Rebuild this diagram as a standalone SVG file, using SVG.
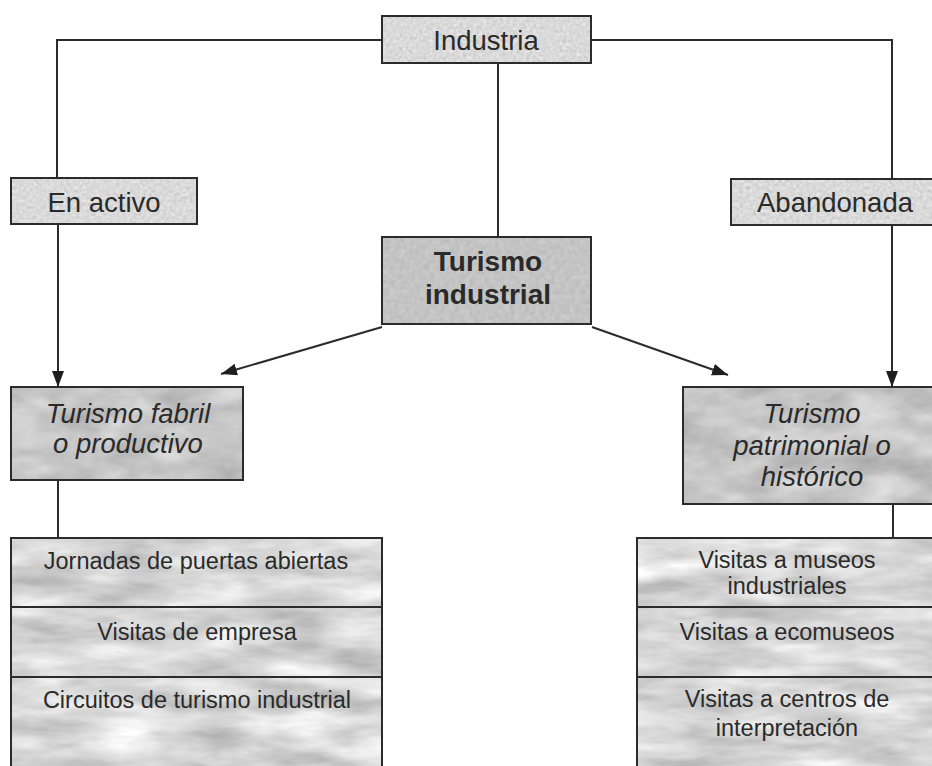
<svg xmlns="http://www.w3.org/2000/svg" width="932" height="766" viewBox="0 0 932 766">
<defs>
<style>
.box{fill:none;stroke:#2b2b2b;stroke-width:2}
.t{font-family:"Liberation Sans",Arial,sans-serif;fill:#2a2a2a;text-anchor:middle}
.top{font-size:27.5px}
.ti{font-size:28px;font-weight:bold}
.it{font-size:27.5px;font-style:italic}
.sm{font-size:23.5px}
.c{fill:none;stroke:#2b2b2b;stroke-width:2}
.light{fill:#dadada;filter:url(#speckle)}
.mid{fill:#c4c4c4;filter:url(#speckle2)}
.marb{fill:#c6c6c6;filter:url(#marble)}
.marb2{fill:#d2d2d2;filter:url(#marble2)}
</style>
<filter id="speckle" x="0" y="0" width="1" height="1" color-interpolation-filters="sRGB">
<feTurbulence type="fractalNoise" baseFrequency="0.3" numOctaves="2" seed="2" result="n"/>
<feColorMatrix in="n" type="matrix" values="0.33 0.33 0.33 0 0 0.33 0.33 0.33 0 0 0.33 0.33 0.33 0 0 0 0 0 0 1" result="g"/>
<feComposite in="SourceGraphic" in2="g" operator="arithmetic" k1="0" k2="1" k3="0.3" k4="-0.15" result="m"/>
<feComposite in="m" in2="SourceGraphic" operator="in"/>
</filter>
<filter id="speckle2" x="0" y="0" width="1" height="1" color-interpolation-filters="sRGB">
<feTurbulence type="fractalNoise" baseFrequency="0.2" numOctaves="2" seed="5" result="n"/>
<feColorMatrix in="n" type="matrix" values="0.33 0.33 0.33 0 0 0.33 0.33 0.33 0 0 0.33 0.33 0.33 0 0 0 0 0 0 1" result="g"/>
<feComposite in="SourceGraphic" in2="g" operator="arithmetic" k1="0" k2="1" k3="0.2" k4="-0.1" result="m"/>
<feComposite in="m" in2="SourceGraphic" operator="in"/>
</filter>
<filter id="marble" x="0" y="0" width="1" height="1" color-interpolation-filters="sRGB">
<feTurbulence type="fractalNoise" baseFrequency="0.02 0.04" numOctaves="4" seed="7" result="n"/>
<feColorMatrix in="n" type="matrix" values="0.33 0.33 0.33 0 0 0.33 0.33 0.33 0 0 0.33 0.33 0.33 0 0 0 0 0 0 1" result="g"/>
<feComposite in="SourceGraphic" in2="g" operator="arithmetic" k1="0" k2="1" k3="0.5" k4="-0.25" result="m"/>
<feComposite in="m" in2="SourceGraphic" operator="in"/>
</filter>
<filter id="marble2" x="0" y="0" width="1" height="1" color-interpolation-filters="sRGB">
<feTurbulence type="fractalNoise" baseFrequency="0.012 0.045" numOctaves="4" seed="11" result="n"/>
<feColorMatrix in="n" type="matrix" values="0.33 0.33 0.33 0 0 0.33 0.33 0.33 0 0 0.33 0.33 0.33 0 0 0 0 0 0 1" result="g"/>
<feComposite in="SourceGraphic" in2="g" operator="arithmetic" k1="0" k2="1" k3="0.7" k4="-0.33" result="m"/>
<feComposite in="m" in2="SourceGraphic" operator="in"/>
</filter>
<marker id="arr" viewBox="0 0 16 12" refX="16" refY="6" markerWidth="16" markerHeight="12" markerUnits="userSpaceOnUse" orient="auto">
<path d="M0,0 L16,6 L0,12 Z" fill="#1e1e1e"/>
</marker>
</defs>
<rect width="932" height="766" fill="#ffffff"/>

<g id="connectors">
<path class="c" d="M382,40 H57 V178"/>
<path class="c" d="M591,40 H892 V179"/>
<path class="c" d="M498,63 V237"/>
<path class="c" d="M58,224 V387" marker-end="url(#arr)"/>
<path class="c" d="M892,225 V387" marker-end="url(#arr)"/>
<path class="c" d="M382,327 L221,374" marker-end="url(#arr)"/>
<path class="c" d="M592,327 L728,375" marker-end="url(#arr)"/>
<path class="c" d="M58,480 V538"/>
<path class="c" d="M893,504 V538"/>
</g>

<g id="industria">
<rect class="light" x="382" y="16" width="209" height="47"/>
<rect class="box" x="382" y="16" width="209" height="47"/>
<text class="t top" x="486" y="50">Industria</text>
</g>

<g id="en-activo">
<rect class="light" x="11" y="178" width="186" height="46"/>
<rect class="box" x="11" y="178" width="186" height="46"/>
<text class="t top" x="104" y="212">En activo</text>
</g>

<g id="abandonada">
<rect class="light" x="731" y="179" width="210" height="46"/>
<rect class="box" x="731" y="179" width="210" height="46"/>
<text class="t top" x="835" y="212">Abandonada</text>
</g>

<g id="turismo-industrial">
<rect class="mid" x="382" y="237" width="209" height="87"/>
<rect class="box" x="382" y="237" width="209" height="87"/>
<text class="t ti" x="488" y="271">Turismo</text>
<text class="t ti" x="488" y="304">industrial</text>
</g>

<g id="turismo-fabril">
<rect class="marb" x="11" y="387" width="232" height="93"/>
<rect class="box" x="11" y="387" width="232" height="93"/>
<text class="t it" x="128" y="423">Turismo fabril</text>
<text class="t it" x="128" y="453">o productivo</text>
</g>

<g id="turismo-patrimonial">
<rect class="marb" x="683" y="387" width="258" height="117"/>
<rect class="box" x="683" y="387" width="258" height="117"/>
<text class="t it" x="812" y="423">Turismo</text>
<text class="t it" x="812" y="455">patrimonial o</text>
<text class="t it" x="812" y="486">histórico</text>
</g>

<g id="jornadas">
<rect class="marb2" x="11" y="538" width="371" height="69"/>
<rect class="box" x="11" y="538" width="371" height="69"/>
<text class="t sm" x="196" y="569">Jornadas de puertas abiertas</text>
</g>
<g id="visitas-empresa">
<rect class="marb2" x="11" y="607" width="371" height="70"/>
<rect class="box" x="11" y="607" width="371" height="70"/>
<text class="t sm" x="197" y="640">Visitas de empresa</text>
</g>
<g id="circuitos">
<rect class="marb2" x="11" y="677" width="371" height="95"/>
<rect class="box" x="11" y="677" width="371" height="95"/>
<text class="t sm" x="197" y="708">Circuitos de turismo industrial</text>
</g>

<g id="museos">
<rect class="marb2" x="637" y="538" width="302" height="69"/>
<rect class="box" x="637" y="538" width="302" height="69"/>
<text class="t sm" x="787" y="568">Visitas a museos</text>
<text class="t sm" x="787" y="594">industriales</text>
</g>
<g id="ecomuseos">
<rect class="marb2" x="637" y="607" width="302" height="70"/>
<rect class="box" x="637" y="607" width="302" height="70"/>
<text class="t sm" x="787" y="640">Visitas a ecomuseos</text>
</g>
<g id="centros">
<rect class="marb2" x="637" y="677" width="302" height="95"/>
<rect class="box" x="637" y="677" width="302" height="95"/>
<text class="t sm" x="787" y="707">Visitas a centros de</text>
<text class="t sm" x="787" y="736">interpretación</text>
</g>
</svg>
